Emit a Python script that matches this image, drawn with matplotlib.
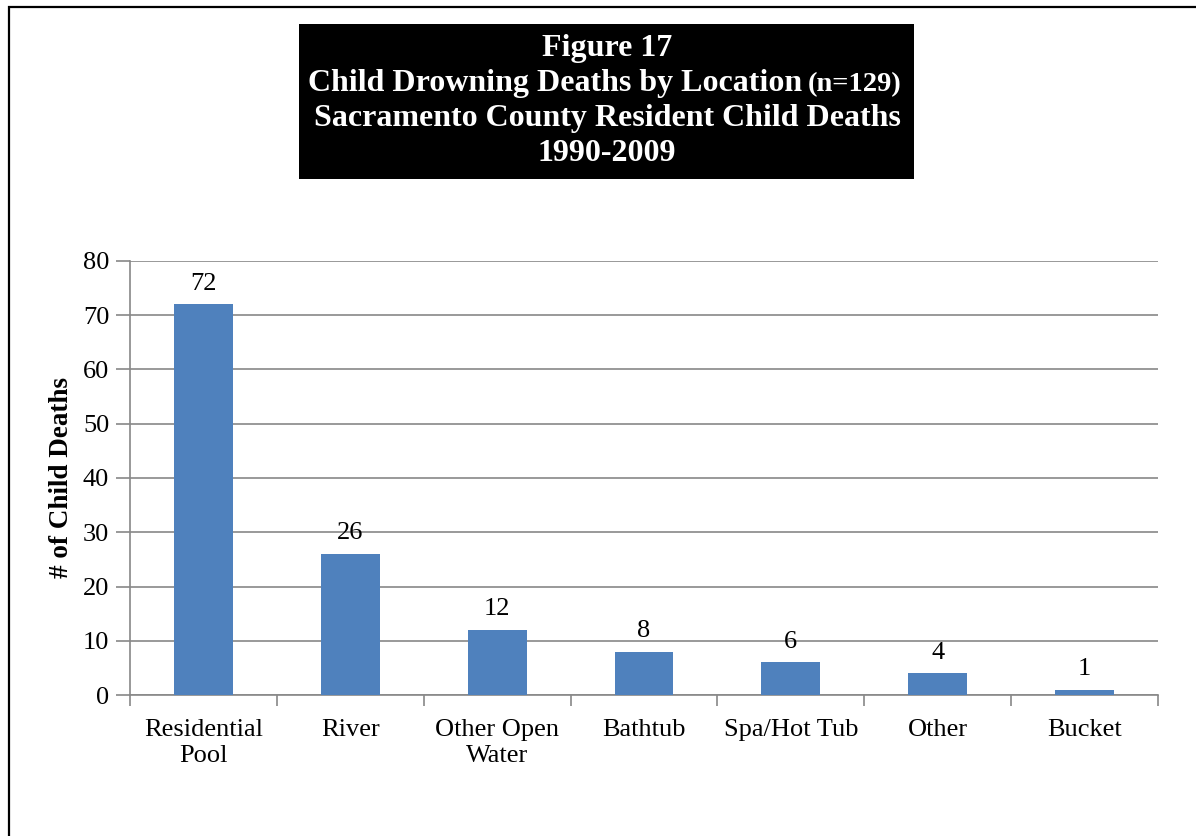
import matplotlib.pyplot as plt
from matplotlib.patches import Rectangle
import numpy as np

# data
locations = ['Residential\nPool', 'River', 'Other Open\nWater', 'Bathtub',
             'Spa/Hot Tub', 'Other', 'Bucket']
deaths = [72, 26, 12, 8, 6, 4, 1]
yticks = [0, 10, 20, 30, 40, 50, 60, 70, 80]

plt.rcParams['font.family'] = ['Liberation Serif', 'DejaVu Serif']

W, H = 1196, 836
fig = plt.figure(figsize=(W / 100, H / 100), dpi=100)

# outer frame (only the top and left edges show in the original)
fig.patches.append(Rectangle((9 / W, -0.1), 1.2, 1 - 7 / H + 0.1, transform=fig.transFigure,
                             fill=False, edgecolor='black', linewidth=1.6))

# black title box
fig.patches.append(Rectangle((299 / W, 1 - 179 / H), (914 - 299) / W, (179 - 24) / H,
                             transform=fig.transFigure, facecolor='black', edgecolor='none'))
ts = 23
fig.text(607 / W, 1 - 56 / H, 'Figure 17', color='white', fontsize=ts, fontweight='bold',
         ha='center', va='baseline')
fig.text(802 / W, 1 - 91 / H, 'Child Drowning Deaths by Location', color='white', fontsize=ts,
         fontweight='bold', ha='right', va='baseline')
fig.text(808 / W, 1 - 91 / H, '(n=129)', color='white', fontsize=20.5,
         fontweight='bold', ha='left', va='baseline')
fig.text(607 / W, 1 - 126 / H, 'Sacramento County Resident Child Deaths', color='white',
         fontsize=ts, fontweight='bold', ha='center', va='baseline')
fig.text(607 / W, 1 - 161 / H, '1990-2009', color='white', fontsize=ts, fontweight='bold',
         ha='center', va='baseline')

ax = fig.add_axes([130 / W, 1 - 695 / H, (1158 - 130) / W, (695 - 261) / H])
x = np.arange(len(locations))
bars = ax.bar(x, deaths, width=0.4, color='#4F81BD', zorder=3)

for xi, v in zip(x, deaths):
    ax.annotate(str(v), (xi, v), xytext=(0, 7), textcoords='offset points',
                ha='center', va='bottom', fontsize=19)

ax.set_xlim(-0.5, len(locations) - 0.5)
ax.set_ylim(0, 80)
ax.set_yticks(yticks)
ax.yaxis.grid(True, color='#888888', linewidth=1.2, zorder=0)
ax.tick_params(axis='y', length=10, width=1.2, color='#888888', labelsize=19, pad=5)

ax.set_xticks(x)
ax.set_xticklabels(locations, fontsize=19, linespacing=1.28)
ax.tick_params(axis='x', which='major', length=0, pad=17)
ax.set_xticks(np.arange(-0.5, len(locations)), minor=True)
ax.tick_params(axis='x', which='minor', length=8, width=1.2, color='#888888')

for s in ['top', 'right']:
    ax.spines[s].set_visible(False)
for s in ['left', 'bottom']:
    ax.spines[s].set_color('#888888')
    ax.spines[s].set_linewidth(1.2)

ax.set_ylabel('# of Child Deaths', fontsize=19.5, fontweight='bold', labelpad=6)

fig.savefig('out.png', dpi=100)
